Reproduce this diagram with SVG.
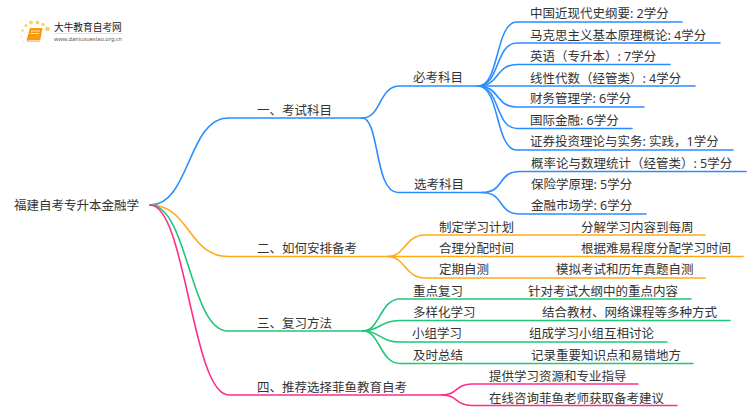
<svg xmlns="http://www.w3.org/2000/svg" width="750" height="410" viewBox="0 0 750 410">
<style>
text{font-family:"Noto Sans","Noto Sans CJK SC",sans-serif;font-size:12.5px;fill:#333}
#connectors path{fill:none;stroke-width:1.6;stroke-linecap:round}
.b path{stroke:#2a8dff}.o path{stroke:#ffab19}.g path{stroke:#1fc77a}.p path{stroke:#ff2e8c}
</style>
<rect width="750" height="410" fill="#fff"/>
<g id="logo">
<g fill="#fbd06a"><circle cx="47.500" cy="29" r="2.300"/><circle cx="37.500" cy="22.500" r="1.900"/><circle cx="31" cy="22.500" r="1.900"/><circle cx="26" cy="25.500" r="1.500"/><circle cx="22.500" cy="30.500" r="1.300"/><circle cx="21.500" cy="36.500" r="1" opacity=".6"/><circle cx="23.500" cy="42" r="1" opacity=".4"/><circle cx="43" cy="24.500" r="1.700"/></g>
<path d="M30 28H42.500L40 41.500H28C26.500 41.500 26.500 40 27 38.500Z" fill="#f59a12"/><path d="M28 40.500H40" stroke="#fbd99b" stroke-width="1"/><path d="M31 31H40M30.500 33.500H39" stroke="#fde3b0" stroke-width="1"/>
<text x="54" y="31" style="font-size:9.700px;fill:#222">大牛教育自考网</text>
<path d="M54 33.500H122" stroke="#ccc" stroke-width=".6"/>
<text x="54" y="41" style="font-size:5.600px;fill:#555">www.daniuxuexiao.org.cn</text>
</g>
<g id="connectors">
<g class="b">
<path d="M150 205C190 205 188 118 228 118H362"/>
<path d="M362 118C382 118 378 86 400 86H478"/>
<path d="M362 118C380 118 374 192.500 398 192.500H482"/>
<path d="M478 86C500 86 495 22 517 22H682"/>
<path d="M478 86C500 86 495 43 517 43H720"/>
<path d="M478 86C500 86 495 64.500 517 64.500H670"/>
<path d="M478 86H695"/>
<path d="M478 86C500 86 495 107 517 107H644"/>
<path d="M478 86C500 86 495 128.500 517 128.500H632"/>
<path d="M478 86C500 86 495 150 517 150H733"/>
<path d="M482 192.500C505 192.500 497 171.500 520 171.500H746"/>
<path d="M482 192.500C505 192.500 497 214 520 214H646"/>
</g>
<g class="o">
<path d="M150 205C190 205 188 256.500 228 256.500H388"/>
<path d="M388 256.500C405 256.500 405 235 425 235H705"/>
<path d="M388 256.500H743"/>
<path d="M388 256.500C405 256.500 405 278 425 278H705"/>
</g>
<g class="g">
<path d="M150 205C188 205 190 331 228 331H363"/>
<path d="M363 331C380 331 380 299 400 299H691"/>
<path d="M363 331C380 331 380 320.500 400 320.500H730"/>
<path d="M363 331C380 331 380 342 400 342H667"/>
<path d="M363 331C380 331 380 363.500 400 363.500H693"/>
</g>
<g class="p">
<path d="M150 205C186 205 192 395 229 395H442"/>
<path d="M442 395C458 395 455 384 472 384H638"/>
<path d="M442 395C458 395 455 405.500 472 405.500H677"/>
</g>
</g>
<g id="root"><text x="14" y="209.500">福建自考专升本金融学</text></g>
<g id="n1"><text x="257" y="114.500">一、考试科目</text></g>
<g id="n1-1"><text x="413" y="82">必考科目</text></g>
<g id="n1-1-1"><text x="530" y="17.500">中国近现代史纲要: 2学分</text></g>
<g id="n1-1-2"><text x="530" y="39.500">马克思主义基本原理概论: 4学分</text></g>
<g id="n1-1-3"><text x="530" y="60.500">英语（专升本）: 7学分</text></g>
<g id="n1-1-4"><text x="530" y="82.500">线性代数（经管类）: 4学分</text></g>
<g id="n1-1-5"><text x="530" y="103">财务管理学: 6学分</text></g>
<g id="n1-1-6"><text x="530" y="124.500">国际金融: 6学分</text></g>
<g id="n1-1-7"><text x="530" y="146">证券投资理论与实务: 实践，1学分</text></g>
<g id="n1-2"><text x="414" y="188.500">选考科目</text></g>
<g id="n1-2-1"><text x="531" y="167.500">概率论与数理统计（经管类）: 5学分</text></g>
<g id="n1-2-2"><text x="531" y="188.500">保险学原理: 5学分</text></g>
<g id="n1-2-3"><text x="531" y="209.500">金融市场学: 6学分</text></g>
<g id="n2"><text x="257" y="252.500">二、如何安排备考</text></g>
<g id="n2-1"><text x="439" y="231.500">制定学习计划</text><text x="581" y="231.500">分解学习内容到每周</text></g>
<g id="n2-2"><text x="439" y="252.500">合理分配时间</text><text x="581" y="252.500">根据难易程度分配学习时间</text></g>
<g id="n2-3"><text x="439" y="273.500">定期自测</text><text x="556" y="273.500">模拟考试和历年真题自测</text></g>
<g id="n3"><text x="257" y="327.500">三、复习方法</text></g>
<g id="n3-1"><text x="413" y="295.500">重点复习</text><text x="528" y="295.500">针对考试大纲中的重点内容</text></g>
<g id="n3-2"><text x="413" y="316.500">多样化学习</text><text x="542" y="316.500">结合教材、网络课程等多种方式</text></g>
<g id="n3-3"><text x="412" y="337.500">小组学习</text><text x="529" y="337.500">组成学习小组互相讨论</text></g>
<g id="n3-4"><text x="413" y="359.500">及时总结</text><text x="531" y="359.500">记录重要知识点和易错地方</text></g>
<g id="n4"><text x="257" y="391.500">四、推荐选择菲鱼教育自考</text></g>
<g id="n4-1"><text x="489" y="380.500">提供学习资源和专业指导</text></g>
<g id="n4-2"><text x="489" y="402.500">在线咨询菲鱼老师获取备考建议</text></g>
</svg>
